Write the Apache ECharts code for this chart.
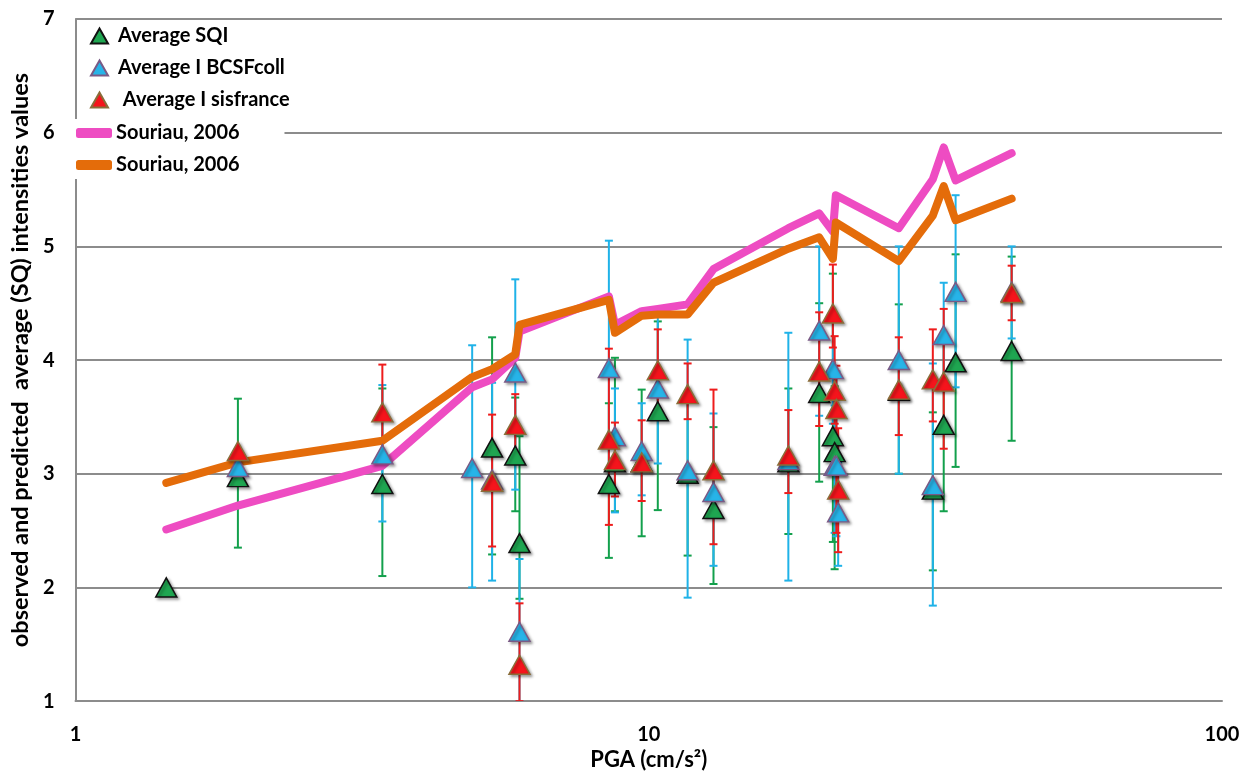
<!DOCTYPE html>
<html><head><meta charset="utf-8">
<script src="https://cdn.jsdelivr.net/npm/echarts@6/dist/echarts.min.js"></script>
<style>html,body{margin:0;padding:0;background:#fff}#c{width:1250px;height:776px}</style>
</head><body><div id="c"></div>
<script>
// Station PGA values (cm/s²)
const pga    = [1.44, 1.92, 3.43, 4.92, 5.33, 5.85, 5.95, 8.52, 8.73, 9.72, 10.37, 11.69, 12.97, 17.52, 19.83, 20.95, 21.1, 21.25, 21.4, 27.3, 31.3, 32.7, 34.3, 42.96];
// Average SQI (green)
const sqi    = [2.0, 2.97, 2.91, null, 3.23, 3.16, 2.39, 2.91, 3.10, 3.10, 3.55, 3.00, 2.69, 3.10, 3.71, 3.33, 3.19, null, null, 3.73, 2.86, 3.43, 3.98, 4.08];
const sqiLo  = [null, 2.35, 2.10, null, 2.29, 2.67, 1.90, 2.26, 2.67, 2.45, 2.68, 2.28, 2.03, 2.47, 2.93, 2.40, 2.16, null, null, 3.00, 2.15, 2.67, 3.06, 3.29];
const sqiHi  = [null, 3.66, 3.75, null, 4.20, 3.67, 3.33, 3.62, 4.02, 3.74, 4.34, 3.72, 3.41, 3.75, 4.50, 4.76, 3.77, null, null, 4.49, 3.54, 4.20, 4.93, 4.91];
// Average I BCSFcoll (blue)
const bcsf   = [null, 3.06, 3.17, 3.05, 2.95, 3.89, 1.61, 3.93, 3.33, 3.20, 3.75, 3.03, 2.84, 3.12, 4.26, 3.92, 3.07, 3.07, 2.66, 4.00, 2.90, 4.22, 4.60, 4.60];
const bcsfLo = [null, null, 2.58, 2.00, 2.06, 2.86, 1.00, 2.83, 2.66, 2.81, 3.09, 1.91, 2.19, 2.06, 3.51, 3.44, 2.48, 2.45, 2.19, 3.00, 1.84, 3.75, 3.76, 4.19];
const bcsfHi = [null, null, 3.78, 4.13, 3.80, 4.71, 2.25, 5.05, 3.75, 3.62, 4.42, 4.18, 3.53, 4.24, 5.00, 4.40, 3.60, 3.90, 3.10, 5.00, 3.97, 4.68, 5.45, 5.00];
// Average I sisfrance (red)
const sisf   = [null, 3.20, 3.54, null, 2.93, 3.43, 1.32, 3.30, 3.12, 3.10, 3.91, 3.70, 3.03, 3.16, 3.90, 4.41, 3.73, 3.57, 2.86, 3.74, 3.83, 3.81, null, 4.59];
const sisfLo = [null, null, 3.12, null, 2.36, 3.16, 1.00, 2.55, 2.80, 2.76, 3.55, 3.48, 2.38, 2.83, 3.42, 4.11, 3.44, 2.48, 2.31, 3.34, 3.46, 3.22, null, 4.35];
const sisfHi = [null, null, 3.96, null, 3.52, 3.70, 1.86, 4.10, 3.45, 3.47, 4.27, 3.97, 3.74, 3.56, 4.42, 4.84, 4.21, 3.95, 3.40, 4.20, 4.27, 4.45, null, 4.83];
// Souriau, 2006 predictions
const linePga  = [1.44, 1.92, 3.43, 4.92, 5.33, 5.85, 5.95, 8.52, 8.73, 9.72, 10.37, 11.69, 12.97, 17.52, 19.83, 20.95, 21.2, 27.3, 31.3, 32.7, 34.3, 42.96];
const souriauA = [2.51, 2.72, 3.07, 3.76, 3.83, 4.02, 4.25, 4.56, 4.31, 4.43, 4.45, 4.49, 4.80, 5.16, 5.29, 5.13, 5.45, 5.16, 5.59, 5.87, 5.58, 5.82];
const souriauB = [2.92, 3.10, 3.29, 3.85, 3.92, 4.05, 4.31, 4.53, 4.24, 4.39, 4.40, 4.40, 4.68, 4.98, 5.08, 4.89, 5.21, 4.87, 5.27, 5.53, 5.23, 5.42];
const yTicks = [1, 2, 3, 4, 5, 6, 7];

const FONT = 'Lato, "Open Sans", sans-serif';
function pts(v) { const o = []; pga.forEach((x, i) => { if (v[i] != null) o.push([x, v[i]]); }); return o; }
function errs(lo, hi) { const o = []; pga.forEach((x, i) => { if (lo[i] != null && hi[i] != null) o.push([x, lo[i], hi[i]]); }); return o; }
function errRender(color) {
  return function (params, api) {
    const x = api.value(0), lo = api.value(1), hi = api.value(2);
    const p1 = api.coord([x, hi]), p2 = api.coord([x, lo]);
    const cap = 4, st = { stroke: color, lineWidth: 2 };
    return { type: 'group', children: [
      { type: 'line', shape: { x1: p1[0], y1: p1[1], x2: p2[0], y2: p2[1] }, style: st },
      { type: 'line', shape: { x1: p1[0] - cap, y1: p1[1], x2: p1[0] + cap, y2: p1[1] }, style: st },
      { type: 'line', shape: { x1: p2[0] - cap, y1: p2[1], x2: p2[0] + cap, y2: p2[1] }, style: st }
    ] };
  };
}
const shadow = { shadowBlur: 3, shadowOffsetX: 2, shadowOffsetY: 2, shadowColor: 'rgba(0,0,0,0.35)' };
const chart = echarts.init(document.getElementById('c'), null, { renderer: 'canvas' });
chart.setOption({
  animation: false,
  backgroundColor: '#ffffff',
  grid: { left: 72, right: 28, top: 19, bottom: 71 },
  xAxis: {
    type: 'log', logBase: 10, min: 1, max: 100,
    name: 'PGA (cm/s²)', nameLocation: 'middle', nameGap: 45,
    nameTextStyle: { fontFamily: FONT, fontWeight: 'bold', fontSize: 22, color: '#000' },
    axisLine: { show: true, lineStyle: { color: '#8c8c8c', width: 2 } },
    axisTick: { show: false }, splitLine: { show: false }, minorSplitLine: { show: false },
    axisLabel: { fontFamily: FONT, fontWeight: 'bold', fontSize: 20, color: '#000', margin: 23 }
  },
  yAxis: {
    type: 'value', min: yTicks[0], max: yTicks[yTicks.length - 1], interval: 1,
    name: 'observed and predicted  average (SQ) intensities values', nameLocation: 'middle', nameGap: 42,
    nameTextStyle: { fontFamily: FONT, fontWeight: 'bold', fontSize: 23.5, color: '#000' },
    axisLine: { show: true, lineStyle: { color: '#8c8c8c', width: 2 } },
    axisTick: { show: false },
    splitLine: { show: true, lineStyle: { color: '#8c8c8c', width: 2 } },
    axisLabel: { fontFamily: FONT, fontWeight: 'bold', fontSize: 20, color: '#000', margin: 21 }
  },
  legend: [
    { data: ['Average SQI', 'Average I BCSFcoll', ' Average I sisfrance'], orient: 'vertical',
      left: 86, top: 22, padding: [4, 8, 4, 4], itemWidth: 17, itemHeight: 15, itemGap: 12,
      backgroundColor: '#ffffff', selectedMode: false,
      textStyle: { fontFamily: FONT, fontWeight: 'bold', fontSize: 20, color: '#000', lineHeight: 20, padding: [0, 0, 0, 5] } },
    { data: [{ name: 'Souriau, 2006', icon: 'roundRect' }, { name: 'Souriau, 2006 ', icon: 'roundRect' }], orient: 'vertical',
      left: 72, top: 119, padding: [4, 40, 4, 4], itemWidth: 36, itemHeight: 10, itemGap: 12,
      backgroundColor: '#ffffff', selectedMode: false,
      textStyle: { fontFamily: FONT, fontWeight: 'bold', fontSize: 20, color: '#000', lineHeight: 20, padding: [0, 0, 0, -1] } }
  ],
  series: [
    { type: 'custom', name: 'errSQI', renderItem: errRender('#13a04c'), data: errs(sqiLo, sqiHi), encode: { x: 0, y: [1, 2] }, z: 1, clip: true, silent: true },
    { type: 'custom', name: 'errBCSF', renderItem: errRender('#1fb2e8'), data: errs(bcsfLo, bcsfHi), encode: { x: 0, y: [1, 2] }, z: 1, clip: true, silent: true },
    { type: 'custom', name: 'errSIS', renderItem: errRender('#ee1c1c'), data: errs(sisfLo, sisfHi), encode: { x: 0, y: [1, 2] }, z: 1, clip: true, silent: true },
    { type: 'line', name: 'Souriau, 2006', data: linePga.map((x, i) => [x, souriauA[i]]), showSymbol: false, symbol: 'none',
      lineStyle: { color: '#ee4cc2', width: 8, cap: 'round', join: 'round' }, itemStyle: { color: '#ee4cc2' }, z: 2 },
    { type: 'line', name: 'Souriau, 2006 ', data: linePga.map((x, i) => [x, souriauB[i]]), showSymbol: false, symbol: 'none',
      lineStyle: { color: '#e46c0a', width: 8, cap: 'round', join: 'round' }, itemStyle: { color: '#e46c0a' }, z: 2 },
    { type: 'scatter', name: 'Average SQI', data: pts(sqi), symbol: 'triangle', symbolSize: [21, 19], z: 3,
      itemStyle: Object.assign({ color: '#1fa651', borderColor: '#111', borderWidth: 1.5, opacity: 1 }, shadow) },
    { type: 'scatter', name: 'Average I BCSFcoll', data: pts(bcsf), symbol: 'triangle', symbolSize: [21, 19], z: 4,
      itemStyle: Object.assign({ color: '#27b4e8', borderColor: '#7a5a86', borderWidth: 1.5, opacity: 1 }, shadow) },
    { type: 'scatter', name: ' Average I sisfrance', data: pts(sisf), symbol: 'triangle', symbolSize: [21, 19], z: 5,
      itemStyle: Object.assign({ color: '#f5141c', borderColor: '#8a6d3a', borderWidth: 1.5, opacity: 1 }, shadow) }
  ]
});
</script></body></html>
